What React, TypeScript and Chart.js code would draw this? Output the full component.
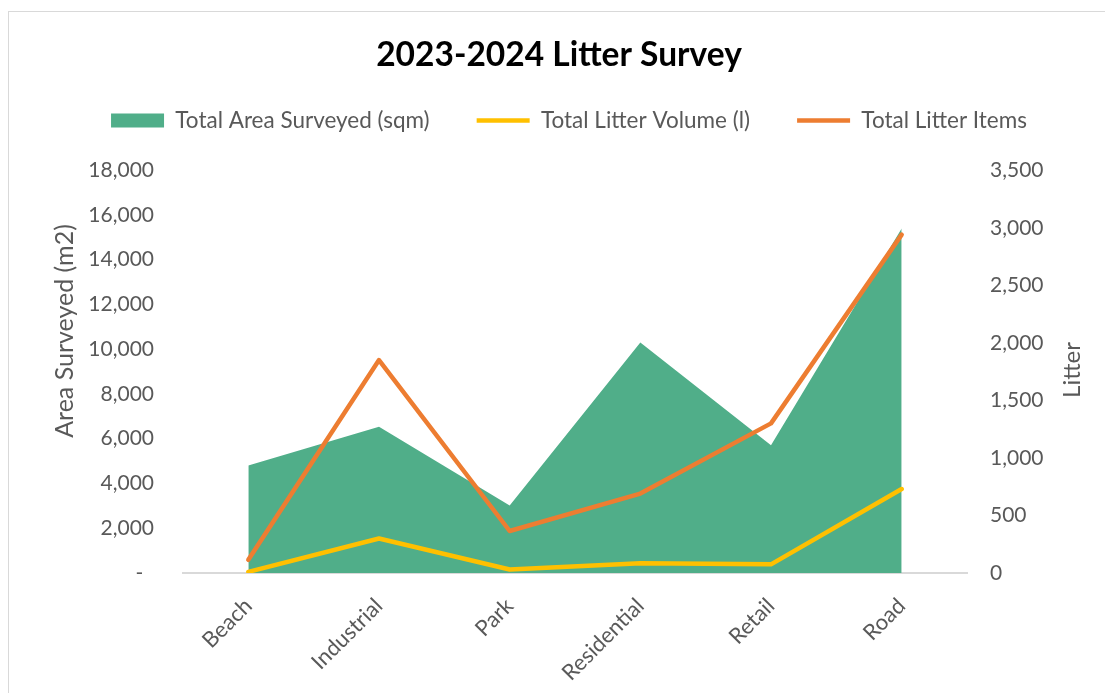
import React, { useEffect, useRef } from 'react';
import { Chart, registerables } from 'chart.js';
Chart.register(...registerables);

const categories = ['Beach', 'Industrial', 'Park', 'Residential', 'Retail', 'Road'];
const areaSurveyed = [4800, 6530, 3020, 10300, 5710, 15390];
const litterVolume = [10, 300, 30, 85, 75, 730];
const litterItems = [115, 1850, 365, 690, 1300, 2940];

const areaLabel = 'Total Area Surveyed (sqm)';
const volumeLabel = 'Total Litter Volume (l)';
const itemsLabel = 'Total Litter Items';
const chartTitle = '2023-2024 Litter Survey';
const leftAxisTitle = 'Area Surveyed (m2)';
const rightAxisTitle = 'Litter';

const FONT = 'Lato, "Open Sans", sans-serif';
const GREY = '#595959';

export default function App() {
  const ref = useRef<HTMLCanvasElement>(null);
  useEffect(() => {
    document.body.style.overflow = 'hidden';
    document.documentElement.style.overflow = 'hidden';
    const axisTitlePlugin = {
      id: 'axisTitles',
      beforeInit(chart: any) {
        const lg = chart.legend;
        if (lg) {
          const orig = lg.fit.bind(lg);
          lg.fit = function () {
            orig();
            this.height += 28.5;
          };
        }
      },
      afterLayout(chart: any) {
        const lg = chart.legend;
        if (lg) {
          lg.left += 10;
          lg.right += 10;
        }
      },
      afterDraw(chart: any) {
        const ctx = chart.ctx;
        const draw = (text: string, size: number, x: number, y: number) => {
          ctx.save();
          ctx.font = `${size}px ${FONT}`;
          ctx.fillStyle = GREY;
          ctx.textAlign = 'center';
          ctx.textBaseline = 'middle';
          ctx.translate(x, y);
          ctx.rotate(-Math.PI / 2);
          ctx.fillText(text, 0, 0);
          ctx.restore();
        };
        draw(leftAxisTitle, 25, 56, 319);
        draw(rightAxisTitle, 24, 1063, 358);
      },
    };
    const chart = new Chart(ref.current!, {
      type: 'line',
      data: {
        labels: categories,
        datasets: [
          {
            label: areaLabel,
            data: areaSurveyed,
            yAxisID: 'y',
            fill: 'origin',
            backgroundColor: '#50ae89',
            borderColor: '#50ae89',
            borderWidth: 0,
            pointRadius: 0,
            tension: 0,
            order: 3,
          },
          {
            label: volumeLabel,
            data: litterVolume,
            yAxisID: 'y1',
            fill: false,
            backgroundColor: '#ffc000',
            borderColor: '#ffc000',
            borderWidth: 4.5,
            borderCapStyle: 'round',
            borderJoinStyle: 'round',
            pointRadius: 0,
            tension: 0,
            order: 2,
          },
          {
            label: itemsLabel,
            data: litterItems,
            yAxisID: 'y1',
            fill: false,
            backgroundColor: '#ed7d31',
            borderColor: '#ed7d31',
            borderWidth: 4.5,
            borderCapStyle: 'round',
            borderJoinStyle: 'round',
            pointRadius: 0,
            tension: 0,
            order: 1,
          },
        ],
      },
      options: {
        responsive: false,
        maintainAspectRatio: false,
        animation: false,
        layout: { padding: 0 },
        plugins: {
          tooltip: { enabled: false },
          title: {
            display: true,
            text: chartTitle,
            color: '#000',
            font: { family: FONT, size: 33.5, weight: 'bold' },
            padding: { top: 23, bottom: 10 },
          },
          legend: {
            display: true,
            position: 'top',
            reverse: true,
            labels: {
              color: GREY,
              font: { family: FONT, size: 22.5 },
              usePointStyle: true,
              pointStyleWidth: 53,
              boxHeight: 14,
              padding: 24,
              generateLabels(chart: any) {
                const items = Chart.defaults.plugins.legend.labels.generateLabels(chart);
                return items.map((it: any) => {
                  if (it.datasetIndex === 0) {
                    it.pointStyle = 'rect';
                    it.text = it.text + '    ';
                  } else {
                    it.pointStyle = 'line';
                    if (it.datasetIndex === 1) it.text = it.text + '    ';
                  }
                  return it;
                });
              },
            },
          },
        },
        scales: {
          x: {
            offset: true,
            grid: { display: false },
            border: { display: true, color: '#d9d9d9', width: 2 },
            ticks: {
              color: GREY,
              font: { family: FONT, size: 22 },
              maxRotation: 45,
              minRotation: 45,
              padding: 12,
            },
            afterFit(scale: any) {
              scale.height = 129;
            },
          },
          y: {
            position: 'left',
            min: 0,
            max: 18000,
            grid: { display: false },
            border: { display: false },
            ticks: {
              stepSize: 2000,
              color: GREY,
              font: { family: FONT, size: 21 },
              padding: 21,
              callback: (v: any) => (v === 0 ? '-  ' : Number(v).toLocaleString('en-US')),
            },
            afterFit(scale: any) {
              scale.width = 174;
            },
          },
          y1: {
            position: 'right',
            min: 0,
            max: 3500,
            grid: { display: false },
            border: { display: false },
            ticks: {
              stepSize: 500,
              color: GREY,
              font: { family: FONT, size: 21 },
              padding: 15,
              callback: (v: any) => Number(v).toLocaleString('en-US'),
            },
            afterFit(scale: any) {
              scale.width = 142;
            },
          },
        },
      },
      plugins: [axisTitlePlugin],
    } as any);
    return () => chart.destroy();
  }, []);
  return (
    <div
      style={{
        position: 'absolute',
        left: 8,
        top: 11,
        width: 1100,
        height: 690,
        border: '1px solid #d9d9d9',
        background: '#fff',
      }}
    >
      <canvas ref={ref} width={1100} height={690} style={{ display: 'block' }} />
    </div>
  );
}
